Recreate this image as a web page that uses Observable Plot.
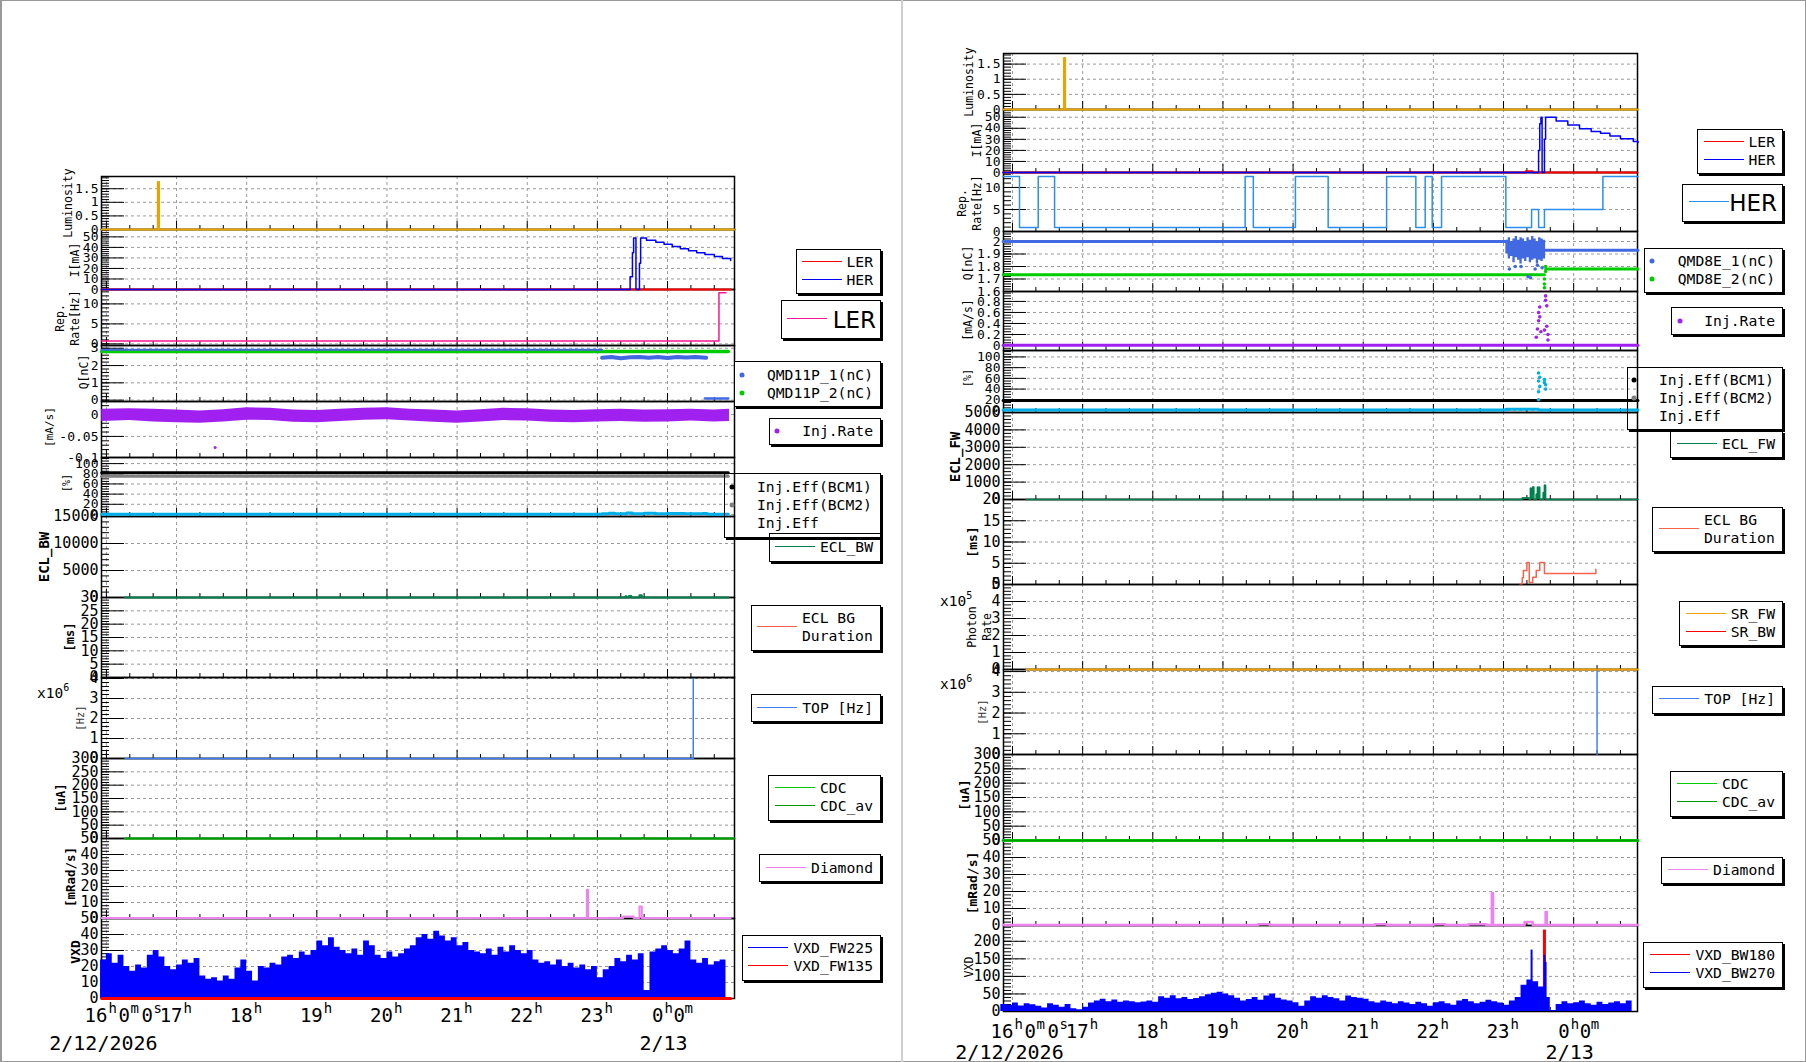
<!DOCTYPE html>
<html><head><meta charset="utf-8">
<script src="https://cdn.jsdelivr.net/npm/d3@7"></script>
<script src="https://cdn.jsdelivr.net/npm/@observablehq/plot@0.6"></script>
<style>
body{margin:0;background:#fff}
#root{position:relative;width:1806px;height:1062px;overflow:hidden;background:#fff;font-family:"DejaVu Sans Mono",monospace}
.box{position:absolute;border:1.5px solid #000;box-shadow:2px 2px 0 #000;background:#fff;box-sizing:border-box}
.tbox{background:transparent}
.t{position:absolute;white-space:pre;line-height:1}
.ln{position:absolute;height:0}
.dt{position:absolute;width:5px;height:5px;border-radius:50%;transform:translate(-50%,-50%)}
</style></head><body><div id="root"></div>
<script>
// ---------------- DATA ----------------
// Left chart
const L_lum   = [["15:56",0],["16:44",1.75],["16:45",0],["00:57",0]];
const L_ler   = [["15:56",0],["00:54",0]];
const L_her   = [["15:56",0],["23:28",12],["23:30",35],["23:31",49],["23:33",0],["23:36",25],["23:37",49],["23:42",46.7],["23:50",45],["23:57",43],["00:04",40.8],["00:11",38.7],["00:18",36.8],["00:25",35],["00:32",33.2],["00:40",31.4],["00:47",29.5],["00:54",27.6]];
const L_rep   = [["15:56",0.7],["00:44",12.8],["00:50",12.8]];
const L_q1a   = [["15:56",2.92],["23:04",2.92]];
const L_q1b   = [["23:04",2.45],["23:12",2.5],["23:20",2.42],["23:28",2.48],["23:36",2.5],["23:44",2.45],["23:52",2.5],["00:00",2.44],["00:08",2.5],["00:16",2.46],["00:24",2.5],["00:33",2.45]];
const L_q1c   = [["00:32",0.1],["00:52",0.1]];
const L_q2    = [["15:56",2.82],["00:52",2.82]];
const L_injT  = ["15:56","16:20","16:40","17:00","17:20","17:40","18:00","18:20","18:40","19:00","19:20","19:40","20:00","20:20","20:40","21:00","21:20","21:40","22:00","22:20","22:40","23:00","23:20","23:40","00:00","00:20","00:40","00:53"];
const L_injHi = [0.012,0.013,0.012,0.010,0.008,0.011,0.015,0.014,0.010,0.009,0.012,0.014,0.015,0.012,0.010,0.008,0.011,0.014,0.013,0.010,0.009,0.011,0.012,0.010,0.011,0.012,0.010,0.012];
const L_injLo = [-0.016,-0.014,-0.017,-0.019,-0.020,-0.017,-0.013,-0.014,-0.018,-0.019,-0.016,-0.013,-0.012,-0.015,-0.018,-0.020,-0.017,-0.014,-0.015,-0.018,-0.019,-0.017,-0.016,-0.018,-0.017,-0.015,-0.017,-0.016];
const L_injOut = [["17:33",-0.075]];
const L_eff1  = [["15:56",82],["00:52",82]];
const L_eff2  = [["15:56",75],["00:52",75]];
const L_eff   = [["15:56",0.5],["23:04",1.5],["23:10",2.5],["23:15",1.5],["23:25",3],["23:30",1.5],["23:40",2.5],["23:50",1.5],["00:00",2],["00:15",1.5],["00:30",2],["00:34",0.5],["00:52",0.5]];
const L_ecl   = [["16:16",0],["23:24",250],["23:25",0],["23:27",300],["23:29",0],["23:36",400],["23:38",0],["00:52",0]];
const L_top   = [["16:16",0],["00:22",9e6]];
const L_cdc   = [["16:16",0],["23:38",2],["23:40",0],["00:57",0]];
const L_dia   = [["15:56",0.3],["22:51",18],["22:52",0.3],["23:22",1.2],["23:31",0.3],["23:36",7.5],["23:38",0.3],["00:54",0.3]];
const L_vxdStart = "15:55", VXD_STEP = 5;
const L_vxd = [24,28,22,27,20,17,21,19,27,30,26,20,18,21,24,22,25,14,12,13,11,14,12,19,24,17,11,20,19,22,21,26,27,25,29,27,30,36,33,38,32,30,28,31,27,36,33,27,25,29,26,28,31,33,38,40,37,42,39,36,38,33,35,30,29,28,31,27,32,29,33,30,28,30,24,22,23,21,24,20,22,19,21,18,20,13,18,20,25,23,27,24,28,5,29,31,33,30,28,31,36,24,22,25,21,23,24,25];
const L_vxdR = [["15:56",0],["00:54",0]];

// Right chart
const R_lum   = [["15:52",0],["16:44",1.7],["16:45",0],["00:55",0]];
const R_ler   = [["15:52",0],["23:19",1.2],["23:25",0],["00:54",0]];
const R_her   = [["15:52",0],["23:30",20],["23:31",44],["23:32",50],["23:33",0],["23:35",30],["23:36",50],["23:45",46.5],["23:55",43],["00:05",39.5],["00:15",37],["00:23",35.5],["00:31",33],["00:40",30.5],["00:51",28],["00:55",27]];
const R_rep   = [["15:52",12.5],["16:06",0.9],["16:22",12.5],["16:36",0.9],["19:19",12.5],["19:26",0.9],["20:02",12.5],["20:30",0.9],["21:20",12.5],["21:45",0.9],["21:53",12.5],["21:59",0.9],["22:07",12.5],["23:02",0.9],["23:24",5],["23:30",0.9],["23:35",5],["00:25",12.5],["00:55",12.5]];
const R_q1a   = [["15:52",2.0],["23:02",2.0]];
const R_q1T   = ["23:02","23:04","23:06","23:08","23:10","23:12","23:14","23:16","23:18","23:20","23:22","23:24","23:26","23:28","23:30","23:32","23:34","23:36"];
const R_q1lo  = [1.9,1.86,1.88,1.83,1.87,1.85,1.82,1.86,1.84,1.87,1.83,1.85,1.86,1.82,1.85,1.84,1.86,1.9];
const R_q1hi  = [2.01,2.03,2.0,2.02,2.04,2.01,2.03,2.02,2.0,2.03,2.01,2.04,2.02,2.0,2.03,2.02,2.01,1.98];
const R_q1out = [["23:05",1.78],["23:10",1.8],["23:21",1.72],["23:23",1.71],["23:27",1.78],["23:33",1.79],["23:15",1.8],["23:29",1.81]];
const R_q1b   = [["23:36",1.93],["00:55",1.93]];
const R_q2a   = [["15:52",1.735],["23:35",1.735]];
const R_q2out = [["23:35",1.66],["23:35",1.7],["23:36",1.8],["23:36",1.76],["23:35",1.63]];
const R_q2b   = [["23:36",1.78],["00:55",1.78]];
const R_inj   = [["15:52",0.005],["00:55",0.005]];
const R_injPts= [["23:28",0.15],["23:29",0.3],["23:30",0.45],["23:30",0.6],["23:31",0.7],["23:31",0.52],["23:32",0.25],["23:36",0.9],["23:36",0.82],["23:37",0.72],["23:37",0.35],["23:38",0.2],["23:38",0.1],["23:35",0.28]];
const R_eff1  = [["15:52",18.7],["00:55",18.7]];
const R_eff   = [["15:52",0.8],["23:02",2.5],["23:30",0.8],["00:55",0.8]];
const R_effPts= [["23:30",70],["23:30",55],["23:31",62],["23:31",45],["23:30",35],["23:35",58],["23:36",48],["23:36",40],["23:35",52],["23:30",20]];
const R_ecl   = [["16:12",0],["23:16",80],["23:22",0],["23:23",650],["23:24",350],["23:25",720],["23:26",0],["23:28",300],["23:29",700],["23:31",0],["23:34",400],["23:35",820],["23:36",0],["00:55",0]];
const R_bgd   = [["23:14",0.2],["23:16",1.6],["23:17",3.3],["23:20",5.2],["23:22",0.5],["23:25",1.7],["23:28",3.3],["23:31",5.2],["23:35",2.6],["00:19",3.6]];
const R_srfw  = [["16:12",0],["00:55",0]];
const R_top   = [["00:20",0],["00:20",9e6]];
const R_cdc   = [["15:52",0],["00:55",0]];
const R_dia   = [["15:52",0.3],["19:30",0.8],["19:40",0.3],["21:10",0.8],["21:20",0.3],["22:00",0.8],["22:10",0.3],["22:30",0.8],["22:45",0.3],["22:50",19],["22:51",0.3],["23:18",2],["23:25",0.3],["23:36",8],["23:37",0.3],["00:55",0.3]];
const R_vxdStart = "15:50";
const R_vxd = [20,18,24,16,22,19,15,10,22,18,12,20,8,5,12,24,30,35,28,33,26,30,28,25,27,30,26,42,38,45,36,40,34,37,42,48,52,55,50,45,38,30,34,40,32,44,50,38,33,30,25,15,30,42,38,45,40,36,30,44,40,38,35,28,24,30,26,22,28,24,20,26,22,15,25,28,22,18,30,34,28,22,26,32,28,24,18,30,40,75,90,85,70,40,3,20,28,22,25,30,22,18,26,20,24,28,22,30,28];
const R_vxdSpk = [["23:24",175],["23:35",160],["23:36",140]];
const R_vxdRed = [["23:35",232]];

// Axis tick labels
const HOURS = ["16:00","17:00","18:00","19:00","20:00","21:00","22:00","23:00","00:00"];
const HOUR_TXT = ["17","18","19","20","21","22","23"];
const MINUTES = ["16:20","16:40","17:20","17:40","18:20","18:40","19:20","19:40","20:20","20:40","21:20","21:40","22:20","22:40","23:20","23:40","00:20","00:40"];

const C = {lum:"#eaa400", ler:"#ff0000", her:"#0000ff", repL:"#ff1493", repR:"#2a8fef", q1:"#4169e1", q2:"#00cc00",
  inj:"#a020f0", eff1:"#000000", eff2:"#808080", eff:"#00aee8", ecl:"#00804d", bgd:"#f5624e", top:"#3f7ff5",
  cdc:"#00cc00", cdcav:"#009900", dia:"#ee82ee", vb:"#0000ff", vr:"#ff0000", sr:"#f0a000"};

// ---------------- helpers ----------------
const root = document.getElementById("root");
function T(s){const p=s.split(":").map(Number);return new Date(Date.UTC(2026,1,p[0]<12?13:12,p[0],p[1],p[2]||0));}
function P(a){return a.map(([t,v])=>({t:T(t),v}));}
function rng(lo,hi,st){const a=[];for(let i=Math.ceil(lo/st-1e-9);i*st<=hi+1e-9;i++)a.push(+(i*st).toFixed(6));return a;}
const LN=(d,stroke,sw=1.5,curve="step-after")=>Plot.line(P(d),{x:"t",y:"v",stroke,strokeWidth:sw,curve});
const DT=(d,fill,r=1.6)=>Plot.dot(P(d),{x:"t",y:"v",r,fill,stroke:null});
function series(start,vals){const t0=T(start).getTime();return vals.map((v,i)=>({t:new Date(t0+i*VXD_STEP*60000),v}));}
const hours=HOURS.map(T), mins=MINUTES.map(T);

function xLabels(dyN,dyD){
  const tx=(t,s,anchor,dx,dy,fs)=>Plot.text([T(t)],{x:d=>d,text:()=>s,frameAnchor:"bottom",textAnchor:anchor,dx,dy,fontSize:fs,fontFamily:"DejaVu Sans Mono"});
  const m=[];
  [["16","end",1,0,19],["h","start",2,-9,14],["0","start",12,0,19],["m","start",24,-9,14],["0","start",35,0,19],["s","start",47,-9,14]]
    .forEach(([s,a,dx,dy,fs])=>m.push(tx("16:00",s,a,dx,dyN+dy,fs)));
  HOUR_TXT.forEach(h=>{m.push(tx(h+":00",h,"end",6,dyN,19));m.push(tx(h+":00","h","start",7,dyN-9,14));});
  [["0","end",-4,0,19],["h","start",-3,-9,14],["0","start",6,0,19],["m","start",17,-9,14]]
    .forEach(([s,a,dx,dy,fs])=>m.push(tx("00:00",s,a,dx,dyN+dy,fs)));
  m.push(tx("16:00","2/12/2026","middle",-3,dyD,20));
  m.push(tx("00:00","2/13","middle",-4,dyD,20));
  return m;
}

const panels=[];
function panel(o){panels.push(o);}
function draw(o){
  const ML=80,MR=6,MT=0,MB=o.xl?80:0;
  const w=o.x1-o.x0,h=o.y1-o.y0;
  const fs=o.fs||(h<70?13:15);
  const fmt=o.fmt||(d=>String(d));
  const marks=[
    Plot.ruleY(o.major,{y:d=>d,stroke:"#9a9a9a",strokeDasharray:"3,3"}),
    Plot.ruleX(hours,{x:d=>d,stroke:"#9a9a9a",strokeDasharray:"3,3"}),
    Plot.frame({stroke:"#000",strokeWidth:1.5}),
    Plot.tickY(o.minor,{y:d=>d,insetRight:w-8,stroke:"#000"}),
    Plot.tickY(o.major,{y:d=>d,insetRight:w-23,stroke:"#000"}),
    Plot.tickX(mins,{x:d=>d,insetTop:h-4,stroke:"#000"}),
    Plot.tickX(hours,{x:d=>d,insetTop:h-8,stroke:"#000"}),
    Plot.text(o.major,{y:d=>d,text:fmt,frameAnchor:"left",textAnchor:"end",dx:-3,fontSize:fs}),
    ...o.marks,
    ...(o.xl||[])
  ];
  const svg=Plot.plot({width:w+ML+MR,height:h+MT+MB,marginLeft:ML,marginRight:MR,marginTop:MT,marginBottom:MB,
    x:{type:"utc",domain:o.xd,axis:null},y:{domain:o.yd,axis:null,clamp:true},
    style:{background:"transparent",overflow:"visible",fontFamily:"DejaVu Sans Mono",fontSize:fs+"px",color:"#000"},marks});
  svg.style.position="absolute";svg.style.left=(o.x0-ML)+"px";svg.style.top=(o.y0-MT)+"px";
  root.appendChild(svg);
}

// ---------------- LEFT chart ----------------
const LX={x0:101,x1:734,xd:[T("15:55:48"),T("00:57:18")]};
panel({...LX,y0:176,y1:229,yd:[0,1.95],major:[0,0.5,1,1.5],minor:rng(0,1.95,0.1),marks:[LN(L_lum,C.lum,2)]});
panel({...LX,y0:229,y1:289,yd:[0,57],major:[0,10,20,30,40,50],minor:rng(0,57,2),marks:[LN(L_ler,C.ler,2),LN(L_her,C.her,1.5)]});
panel({...LX,y0:289,y1:345,yd:[-0.4,13.6],major:[0,5,10],minor:rng(0,13.6,1),marks:[LN(L_rep,C.repL,1.5)]});
panel({...LX,y0:345,y1:401,yd:[-0.08,3.16],major:[0,1,2,3],minor:rng(0,3.16,0.2),marks:[LN(L_q2,C.q2,3.5),LN(L_q1a,C.q1,2),LN(L_q1b,C.q1,4,"linear"),LN(L_q1c,C.q1,2.5)]});
panel({...LX,y0:401,y1:457,yd:[-0.098,0.0295],major:[-0.1,-0.05,0],minor:rng(-0.098,0.0295,0.01),
  marks:[Plot.areaY(L_injT.map((t,i)=>({t:T(t),lo:L_injLo[i],hi:L_injHi[i]})),{x:"t",y1:"lo",y2:"hi",fill:C.inj}),DT(L_injOut,C.inj,1.5)]});
panel({...LX,y0:457,y1:516,yd:[-4,112],major:[0,20,40,60,80,100],minor:rng(0,112,5),marks:[LN(L_eff1,C.eff1,3),LN(L_eff2,C.eff2,3),LN(L_eff,C.eff,3)]});
panel({...LX,y0:516,y1:597,yd:[0,15000],major:[0,5000,10000,15000],minor:rng(0,15000,1000),marks:[LN(L_ecl,C.ecl,2)]});
panel({...LX,y0:597,y1:677,yd:[0,30],major:[0,5,10,15,20,25,30],minor:rng(0,30,1),marks:[]});
panel({...LX,y0:677,y1:758,yd:[0,4.05e6],major:[0,1e6,2e6,3e6,4e6],fmt:d=>String(d/1e6),minor:rng(0,4.05e6,2e5),marks:[LN(L_top,C.top,1.5)]});
panel({...LX,y0:758,y1:838,yd:[0,300],major:[0,50,100,150,200,250,300],minor:rng(0,300,10),marks:[LN(L_cdc,C.cdc,2),LN(L_cdc,C.cdcav,1.5)]});
panel({...LX,y0:838,y1:918,yd:[0,50],major:[0,10,20,30,40,50],minor:rng(0,50,2),marks:[LN(L_dia,C.dia,2)]});
panel({...LX,y0:918,y1:998,yd:[0,50],major:[0,10,20,30,40,50],minor:rng(0,50,2),
  marks:[Plot.areaY(series(L_vxdStart,L_vxd),{x:"t",y:"v",fill:C.vb,curve:"step-after"}),LN(L_vxdR,C.vr,3)],xl:xLabels(23,51)});

// ---------------- RIGHT chart ----------------
const RX={x0:1003,x1:1637,xd:[T("15:52:18"),T("00:54:36")]};
panel({...RX,y0:53,y1:109,yd:[0,1.85],major:[0,0.5,1,1.5],minor:rng(0,1.85,0.1),marks:[LN(R_lum,C.lum,2)]});
panel({...RX,y0:109,y1:172,yd:[0,57],major:[0,10,20,30,40,50],minor:rng(0,57,2),marks:[LN(R_ler,C.ler,2),LN(R_her,C.her,1.5)]});
panel({...RX,y0:172,y1:231,yd:[0,13.4],major:[0,5,10],minor:rng(0,13.4,1),marks:[LN(R_rep,C.repR,1.5)]});
panel({...RX,y0:231,y1:291,yd:[1.6,2.08],major:[1.6,1.7,1.8,1.9,2],minor:rng(1.6,2.08,0.02),
  marks:[LN(R_q2a,C.q2,3),LN(R_q2b,C.q2,3),DT(R_q2out,C.q2,1.8),LN(R_q1a,C.q1,3),
    Plot.areaY(R_q1T.map((t,i)=>({t:T(t),lo:R_q1lo[i],hi:R_q1hi[i]})),{x:"t",y1:"lo",y2:"hi",fill:C.q1,curve:"step-after"}),
    DT(R_q1out,C.q1,1.8),LN(R_q1b,C.q1,3)]});
panel({...RX,y0:291,y1:350,yd:[-0.09,0.98],major:[0,0.2,0.4,0.6,0.8],minor:rng(-0.09,0.98,0.05),marks:[LN(R_inj,C.inj,3),DT(R_injPts,C.inj,1.8)]});
panel({...RX,y0:350,y1:412,yd:[-3.7,112],major:[0,20,40,60,80,100],minor:rng(0,112,5),marks:[LN(R_eff1,C.eff1,3),LN(R_eff,C.eff,3),DT(R_effPts,C.eff,1.8)]});
panel({...RX,y0:412,y1:499,yd:[0,5000],major:[0,1000,2000,3000,4000,5000],minor:rng(0,5000,200),
  marks:[Plot.areaY(P(R_ecl),{x:"t",y:"v",fill:C.ecl,curve:"step-after"}),LN(R_ecl,C.ecl,1.5)]});
panel({...RX,y0:499,y1:584,yd:[0,20],major:[0,5,10,15,20],minor:rng(0,20,1),marks:[LN(R_bgd,C.bgd,1.5)]});
panel({...RX,y0:584,y1:669,yd:[0,5e5],major:[0,1e5,2e5,3e5,4e5,5e5],fmt:d=>String(d/1e5),minor:rng(0,5e5,2e4),marks:[LN(R_srfw,C.sr,2)]});
panel({...RX,y0:669,y1:754,yd:[0,4.1e6],major:[0,1e6,2e6,3e6,4e6],fmt:d=>String(d/1e6),minor:rng(0,4.1e6,2e5),marks:[LN(R_top,C.top,1.5,"linear")]});
panel({...RX,y0:754,y1:840,yd:[0,300],major:[0,50,100,150,200,250,300],minor:rng(0,300,10),marks:[LN(R_cdc,C.cdc,3),LN(R_cdc,C.cdcav,1.5)]});
panel({...RX,y0:840,y1:925,yd:[0,50],major:[0,10,20,30,40,50],minor:rng(0,50,2),marks:[LN(R_dia,C.dia,2.5)]});
panel({...RX,y0:925,y1:1011,yd:[0,245],major:[0,50,100,150,200],minor:rng(0,245,10),
  marks:[Plot.ruleX(P(R_vxdRed),{x:"t",y1:0,y2:"v",stroke:C.vr,strokeWidth:3}),
    Plot.areaY(series(R_vxdStart,R_vxd),{x:"t",y:"v",fill:C.vb,curve:"step-after"}),
    Plot.ruleX(P(R_vxdSpk),{x:"t",y1:0,y2:"v",stroke:C.vb,strokeWidth:2})],xl:xLabels(26,47)});

// draw bottom-to-top so zero lines sit over the next frame
panels.slice().reverse().forEach(draw);

// ---------------- HTML overlays: axis titles, legends ----------------
function txt(s,x,y,o={}){const d=document.createElement("div");d.className="t";d.textContent=s;
  d.style.fontSize=(o.fs||14.7)+"px";d.style.left=x+"px";d.style.top=y+"px";
  if(o.family)d.style.fontFamily=o.family;if(o.bold)d.style.fontWeight="bold";if(o.color)d.style.color=o.color;
  d.style.transform=o.anchor==="end"?"translate(-100%,-50%)":"translate(0,-50%)";root.appendChild(d);return d;}
function vtitle(s,cx,cy,fs,bold,color){const d=document.createElement("div");d.className="t";d.textContent=s;
  d.style.fontSize=fs+"px";d.style.lineHeight="1.3";d.style.textAlign="center";d.style.left=cx+"px";d.style.top=cy+"px";
  if(bold)d.style.fontWeight="bold";if(color)d.style.color=color;
  d.style.transform="translate(-50%,-50%) rotate(-90deg)";root.appendChild(d);}
function exp(base,e,x,y){const d=document.createElement("div");d.className="t";d.innerHTML=base+'<sup style="font-size:10px;vertical-align:7px">'+e+'</sup>';
  d.style.fontSize="14.5px";d.style.left=x+"px";d.style.top=y+"px";d.style.transform="translate(0,-50%)";root.appendChild(d);}
function box(x0,y0,x1,y1,tr){const d=document.createElement("div");d.className="box"+(tr?" tbox":"");
  Object.assign(d.style,{left:x0+"px",top:y0+"px",width:(x1-x0)+"px",height:(y1-y0)+"px"});root.appendChild(d);}
function lsamp(x0,x1,y,c){const d=document.createElement("div");d.className="ln";
  Object.assign(d.style,{left:x0+"px",top:(y-0.75)+"px",width:(x1-x0)+"px",borderTop:"1.5px solid "+c});root.appendChild(d);}
function dot(x,y,c){const d=document.createElement("div");d.className="dt";Object.assign(d.style,{left:x+"px",top:y+"px",background:c});root.appendChild(d);}

// page border and divider between the two canvases
const bd=document.createElement("div");Object.assign(bd.style,{position:"absolute",left:"0",top:"0",width:"1806px",height:"1062px",boxSizing:"border-box",border:"1px solid #999",borderLeft:"2px solid #999",pointerEvents:"none"});root.appendChild(bd);
const dv=document.createElement("div");Object.assign(dv.style,{position:"absolute",left:"901px",top:"0",width:"2px",height:"1062px",background:"#cfcfcf"});root.appendChild(dv);

// Left axis titles
vtitle("Luminosity",68,203,11.5);vtitle("I[mA]",75,260,11.5);vtitle("Rep.\nRate[Hz]",68,318,11.5);vtitle("Q[nC]",84,372,11.5);
vtitle("[mA/s]",50,427,11);vtitle("[%]",66,483,10);vtitle("ECL_BW",44,557,14,true);vtitle("[ms]",71,637,12,true);
vtitle("[Hz]",81,718,10.5,false,"#333");vtitle("[uA]",62,798,12,true);vtitle("[mRad/s]",71,877,12.5,true);vtitle("VXD",76,952,13,true);
exp("x10","6",37,692);
// Right axis titles
vtitle("Luminosity",969,82,11.5);vtitle("I[mA]",977,140,11.5);vtitle("Rep.\nRate[Hz]",970,203,11.5);vtitle("Q[nC]",968,263,11.5);
vtitle("[mA/s]",968,320,11.5);vtitle("[%]",967,378,10);vtitle("ECL_FW",955,457,14,true);vtitle("[ms]",973,542,13,true);
vtitle("Photon\nRate",980,627,11.5);vtitle("[Hz]",983,712,10.5,false,"#333");vtitle("[uA]",965,795,13,true);
vtitle("[mRad/s]",973,883,13,true);vtitle("VXD",969,967,11.5);
exp("x10","5",940,600);exp("x10","6",940,683);

// Left legends
box(796,249,881,294);lsamp(802,842,262,C.ler);txt("LER",873,262,{anchor:"end"});lsamp(802,842,280,C.her);txt("HER",873,280,{anchor:"end"});
box(781,300,881,339);lsamp(787,827,319,C.repL);txt("LER",876,320,{anchor:"end",fs:23,family:"DejaVu Sans"});
box(734,361,881,407);dot(742,375,C.q1);txt("QMD11P_1(nC)",873,375,{anchor:"end"});dot(742,393,C.q2);txt("QMD11P_2(nC)",873,393,{anchor:"end"});
box(769,418,881,445);dot(777,431,C.inj);txt("Inj.Rate",873,431,{anchor:"end"});
box(769,533,881,562);lsamp(775,815,547,C.ecl);txt("ECL_BW",873,547,{anchor:"end"});
box(724,473,881,538,true);dot(732,487,C.eff1);dot(732,505,C.eff2);txt("Inj.Eff(BCM1)",757,487);txt("Inj.Eff(BCM2)",757,505);txt("Inj.Eff",757,523);
box(751,605,881,651);lsamp(757,797,627,C.bgd);txt("ECL BG",802,618);txt("Duration",802,636);
box(751,694,881,722);lsamp(757,797,708,C.top);txt("TOP [Hz]",873,708,{anchor:"end"});
box(768,775,881,821);lsamp(775,815,788,C.cdc);txt("CDC",820,788);lsamp(775,815,806,C.cdcav);txt("CDC_av",820,806);
box(759,854,881,882);lsamp(766,806,868,C.dia);txt("Diamond",873,868,{anchor:"end"});
box(742,935,881,981);lsamp(748,788,948,C.vb);txt("VXD_FW225",873,948,{anchor:"end"});lsamp(748,788,966,C.vr);txt("VXD_FW135",873,966,{anchor:"end"});

// Right legends
box(1697,129,1783,174);lsamp(1704,1744,142,C.ler);txt("LER",1775,142,{anchor:"end"});lsamp(1704,1744,160,C.her);txt("HER",1775,160,{anchor:"end"});
box(1682,184,1783,222);lsamp(1689,1729,202,C.repR);txt("HER",1777,203,{anchor:"end",fs:23,family:"DejaVu Sans"});
box(1644,248,1783,293);dot(1652,261,C.q1);txt("QMD8E_1(nC)",1775,261,{anchor:"end"});dot(1652,279,C.q2);txt("QMD8E_2(nC)",1775,279,{anchor:"end"});
box(1671,307,1783,335);dot(1680,321,C.inj);txt("Inj.Rate",1775,321,{anchor:"end"});
box(1670,431,1783,458);lsamp(1677,1717,444,C.ecl);txt("ECL_FW",1775,444,{anchor:"end"});
box(1627,367,1783,430,true);dot(1634,380,C.eff1);dot(1634,398,C.eff2);txt("Inj.Eff(BCM1)",1659,380);txt("Inj.Eff(BCM2)",1659,398);txt("Inj.Eff",1659,416);
box(1652,507,1783,552);lsamp(1659,1699,529,C.bgd);txt("ECL BG",1704,520);txt("Duration",1704,538);
box(1679,601,1783,646);lsamp(1686,1726,614,C.sr);txt("SR_FW",1775,614,{anchor:"end"});lsamp(1686,1726,632,C.vr);txt("SR_BW",1775,632,{anchor:"end"});
box(1652,686,1783,714);lsamp(1659,1699,699,C.top);txt("TOP [Hz]",1775,699,{anchor:"end"});
box(1670,771,1783,817);lsamp(1677,1717,784,C.cdc);txt("CDC",1722,784);lsamp(1677,1717,802,C.cdcav);txt("CDC_av",1722,802);
box(1661,857,1783,884);lsamp(1668,1708,870,C.dia);txt("Diamond",1775,870,{anchor:"end"});
box(1643,942,1783,988);lsamp(1650,1690,955,C.vr);txt("VXD_BW180",1775,955,{anchor:"end"});lsamp(1650,1690,973,C.vb);txt("VXD_BW270",1775,973,{anchor:"end"});
</script></body></html>
